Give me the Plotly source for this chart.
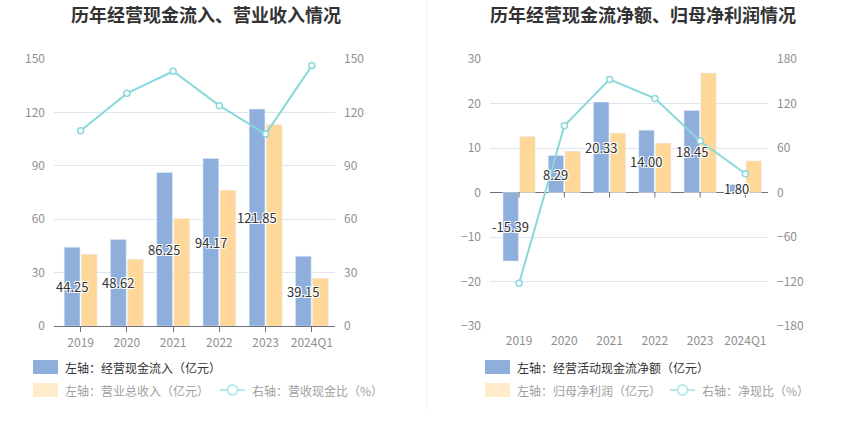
import plotly.graph_objects as go

# values
years = ["2019", "2020", "2021", "2022", "2023", "2024Q1"]
cash_inflow = [44.25, 48.62, 86.25, 94.17, 121.85, 39.15]      # 亿元
revenue = [40.3, 37.5, 60.4, 76.3, 113.1, 26.8]                 # 亿元
cash_revenue_ratio = [109.7, 130.7, 143.1, 123.8, 107.8, 146.3]  # %
net_cash_flow = [-15.39, 8.29, 20.33, 14.00, 18.45, 1.80]       # 亿元
net_profit = [12.6, 9.3, 13.35, 11.1, 26.85, 7.1]               # 亿元
net_cash_ratio = [-122.4, 89.9, 152.5, 126.9, 69.3, 25.2]       # %

W, H = 850, 437
BLUE = "#8EAEDC"
YELLOW = "#FFD899"
TEAL = "#8AD8DA"
AXIS = "#6E7079"
GRID = "#E0E6F1"
TICK = "#8F8F8F"
FONT = "Noto Sans CJK SC"
HALO = "1px 1px 0 #fff, -1px -1px 0 #fff, 1px -1px 0 #fff, -1px 1px 0 #fff"
BARGAP = 0.26


def px_x(v):
    return v / W


def px_y(v):
    return 1 - v / H


y_dom = [px_y(326), px_y(59)]
left_dom = [px_x(54), px_x(335)]
right_dom = [px_x(490), px_x(768)]

fig = go.Figure()

# left chart
fig.add_trace(go.Bar(x=years, y=cash_inflow, marker_color=BLUE, xaxis="x", yaxis="y"))
fig.add_trace(go.Bar(x=years, y=revenue, marker_color=YELLOW, xaxis="x", yaxis="y"))
fig.add_trace(go.Scatter(x=years, y=cash_revenue_ratio, mode="lines+markers", xaxis="x", yaxis="y2",
                         line=dict(color=TEAL, width=2),
                         marker=dict(symbol="circle", size=6, color="white",
                                     line=dict(color=TEAL, width=1.5))))

# right chart
fig.add_trace(go.Bar(x=years, y=net_cash_flow, marker_color=BLUE, xaxis="x2", yaxis="y3"))
fig.add_trace(go.Bar(x=years, y=net_profit, marker_color=YELLOW, xaxis="x2", yaxis="y3"))
fig.add_trace(go.Scatter(x=years, y=net_cash_ratio, mode="lines+markers", xaxis="x2", yaxis="y4",
                         line=dict(color=TEAL, width=2),
                         marker=dict(symbol="circle", size=6, color="white",
                                     line=dict(color=TEAL, width=1.5))))

tickfont = dict(family=FONT, size=12, color=TICK)

xcommon = dict(type="category", categoryorder="array", categoryarray=years,
               tickfont=tickfont, showgrid=False, fixedrange=True, automargin=False)
ycommon = dict(tickfont=tickfont, showline=False, zeroline=False, automargin=False, ticks="",
               ticklabelstandoff=8)

fig.update_layout(
    width=W, height=H, autosize=False,
    margin=dict(l=0, r=0, t=0, b=0),
    paper_bgcolor="white", plot_bgcolor="white",
    font=dict(family=FONT, color="#333"),
    showlegend=False,
    barmode="group", bargap=BARGAP, bargroupgap=0.08,
    xaxis=dict(domain=left_dom, anchor="y", showline=True, linecolor=AXIS,
               ticks="outside", ticklen=5, tickcolor=AXIS, ticklabelstandoff=1, **xcommon),
    yaxis=dict(domain=y_dom, anchor="x", range=[0, 150], dtick=30, gridcolor=GRID, **ycommon),
    yaxis2=dict(domain=y_dom, anchor="x", overlaying="y", side="right", range=[0, 150], dtick=30,
                showgrid=False, **ycommon),
    xaxis2=dict(domain=right_dom, anchor="y3", showline=False, ticks="", ticklabelstandoff=6,
                **xcommon),
    yaxis3=dict(domain=y_dom, anchor="x2", range=[-30, 30], dtick=10, gridcolor=GRID,
                **{**ycommon, "zeroline": True}, zerolinecolor=AXIS, zerolinewidth=1),
    yaxis4=dict(domain=y_dom, anchor="x2", overlaying="y3", side="right", range=[-180, 180],
                dtick=60, showgrid=False, **ycommon),
)

annotations = [
    dict(text="<b>历年经营现金流入、营业收入情况</b>", x=px_x(206), y=px_y(14)),
    dict(text="<b>历年经营现金流净额、归母净利润情况</b>", x=px_x(643), y=px_y(14)),
]
for a in annotations:
    a.update(xref="paper", yref="paper", showarrow=False, xanchor="center", yanchor="middle",
             font=dict(family=FONT, size=18, color="#333"))

# value labels in the middle of the blue bars (shifted onto the blue slot of each group);
# on a category axis the position is the category index
label_font = dict(family=FONT, size=13, color="#333", shadow=HALO)
for xref, yref, dom, values in [("x", "y", left_dom, cash_inflow),
                                ("x2", "y3", right_dom, net_cash_flow)]:
    cat_px = (dom[1] - dom[0]) * W / len(years)
    shift = -cat_px * (1 - BARGAP) / 4
    for i, v in enumerate(values):
        annotations.append(dict(text=f"{v:.2f}", x=i, y=v / 2, xref=xref, yref=yref,
                                xshift=shift, showarrow=False, xanchor="center",
                                yanchor="middle", font=label_font))

shapes = [dict(type="line", xref="paper", yref="paper", x0=px_x(427), x1=px_x(427),
               y0=px_y(0), y1=px_y(410), line=dict(color="#EEEEEE", width=1))]

# right chart: category ticks hang from the zero line
for i in range(len(years)):
    shapes.append(dict(type="line", xref="x2", yref="y3", x0=i, x1=i,
                       ysizemode="pixel", yanchor=0, y0=0, y1=-5,
                       line=dict(color=AXIS, width=1)))

legend_items = [
    # (swatch left px, row y px, kind, colour, text, text colour)
    (33, 367, "box", BLUE, "左轴：经营现金流入（亿元）", "#333"),
    (33, 390, "box", "#FFEBC9", "左轴：营业总收入（亿元）", "#A0A0A0"),
    (220, 390, "line", "#B5E8EA", "右轴：营收现金比（%）", "#A0A0A0"),
    (485, 367, "box", BLUE, "左轴：经营活动现金流净额（亿元）", "#333"),
    (485, 390, "box", "#FFEBC9", "左轴：归母净利润（亿元）", "#A0A0A0"),
    (670, 390, "line", "#B5E8EA", "右轴：净现比（%）", "#A0A0A0"),
]
for x0, yc, kind, col, txt, tcol in legend_items:
    if kind == "box":
        shapes.append(dict(type="rect", xref="paper", yref="paper",
                           x0=px_x(x0), x1=px_x(x0 + 25), y0=px_y(yc - 7), y1=px_y(yc + 7),
                           fillcolor=col, line=dict(width=0)))
    else:
        shapes.append(dict(type="line", xref="paper", yref="paper",
                           x0=px_x(x0), x1=px_x(x0 + 25), y0=px_y(yc), y1=px_y(yc),
                           line=dict(color=col, width=2)))
        shapes.append(dict(type="circle", xref="paper", yref="paper",
                           x0=px_x(x0 + 7.5), x1=px_x(x0 + 17.5), y0=px_y(yc - 5), y1=px_y(yc + 5),
                           fillcolor="white", line=dict(color=col, width=2)))
    annotations.append(dict(text=txt, xref="paper", yref="paper", x=px_x(x0 + 30), y=px_y(yc),
                            xanchor="left", yanchor="middle", showarrow=False,
                            font=dict(family=FONT, size=12, color=tcol)))

fig.update_layout(annotations=annotations, shapes=shapes)

fig.write_html("out.html", config={"displayModeBar": False},
               post_script="document.body.style.margin='0';")
